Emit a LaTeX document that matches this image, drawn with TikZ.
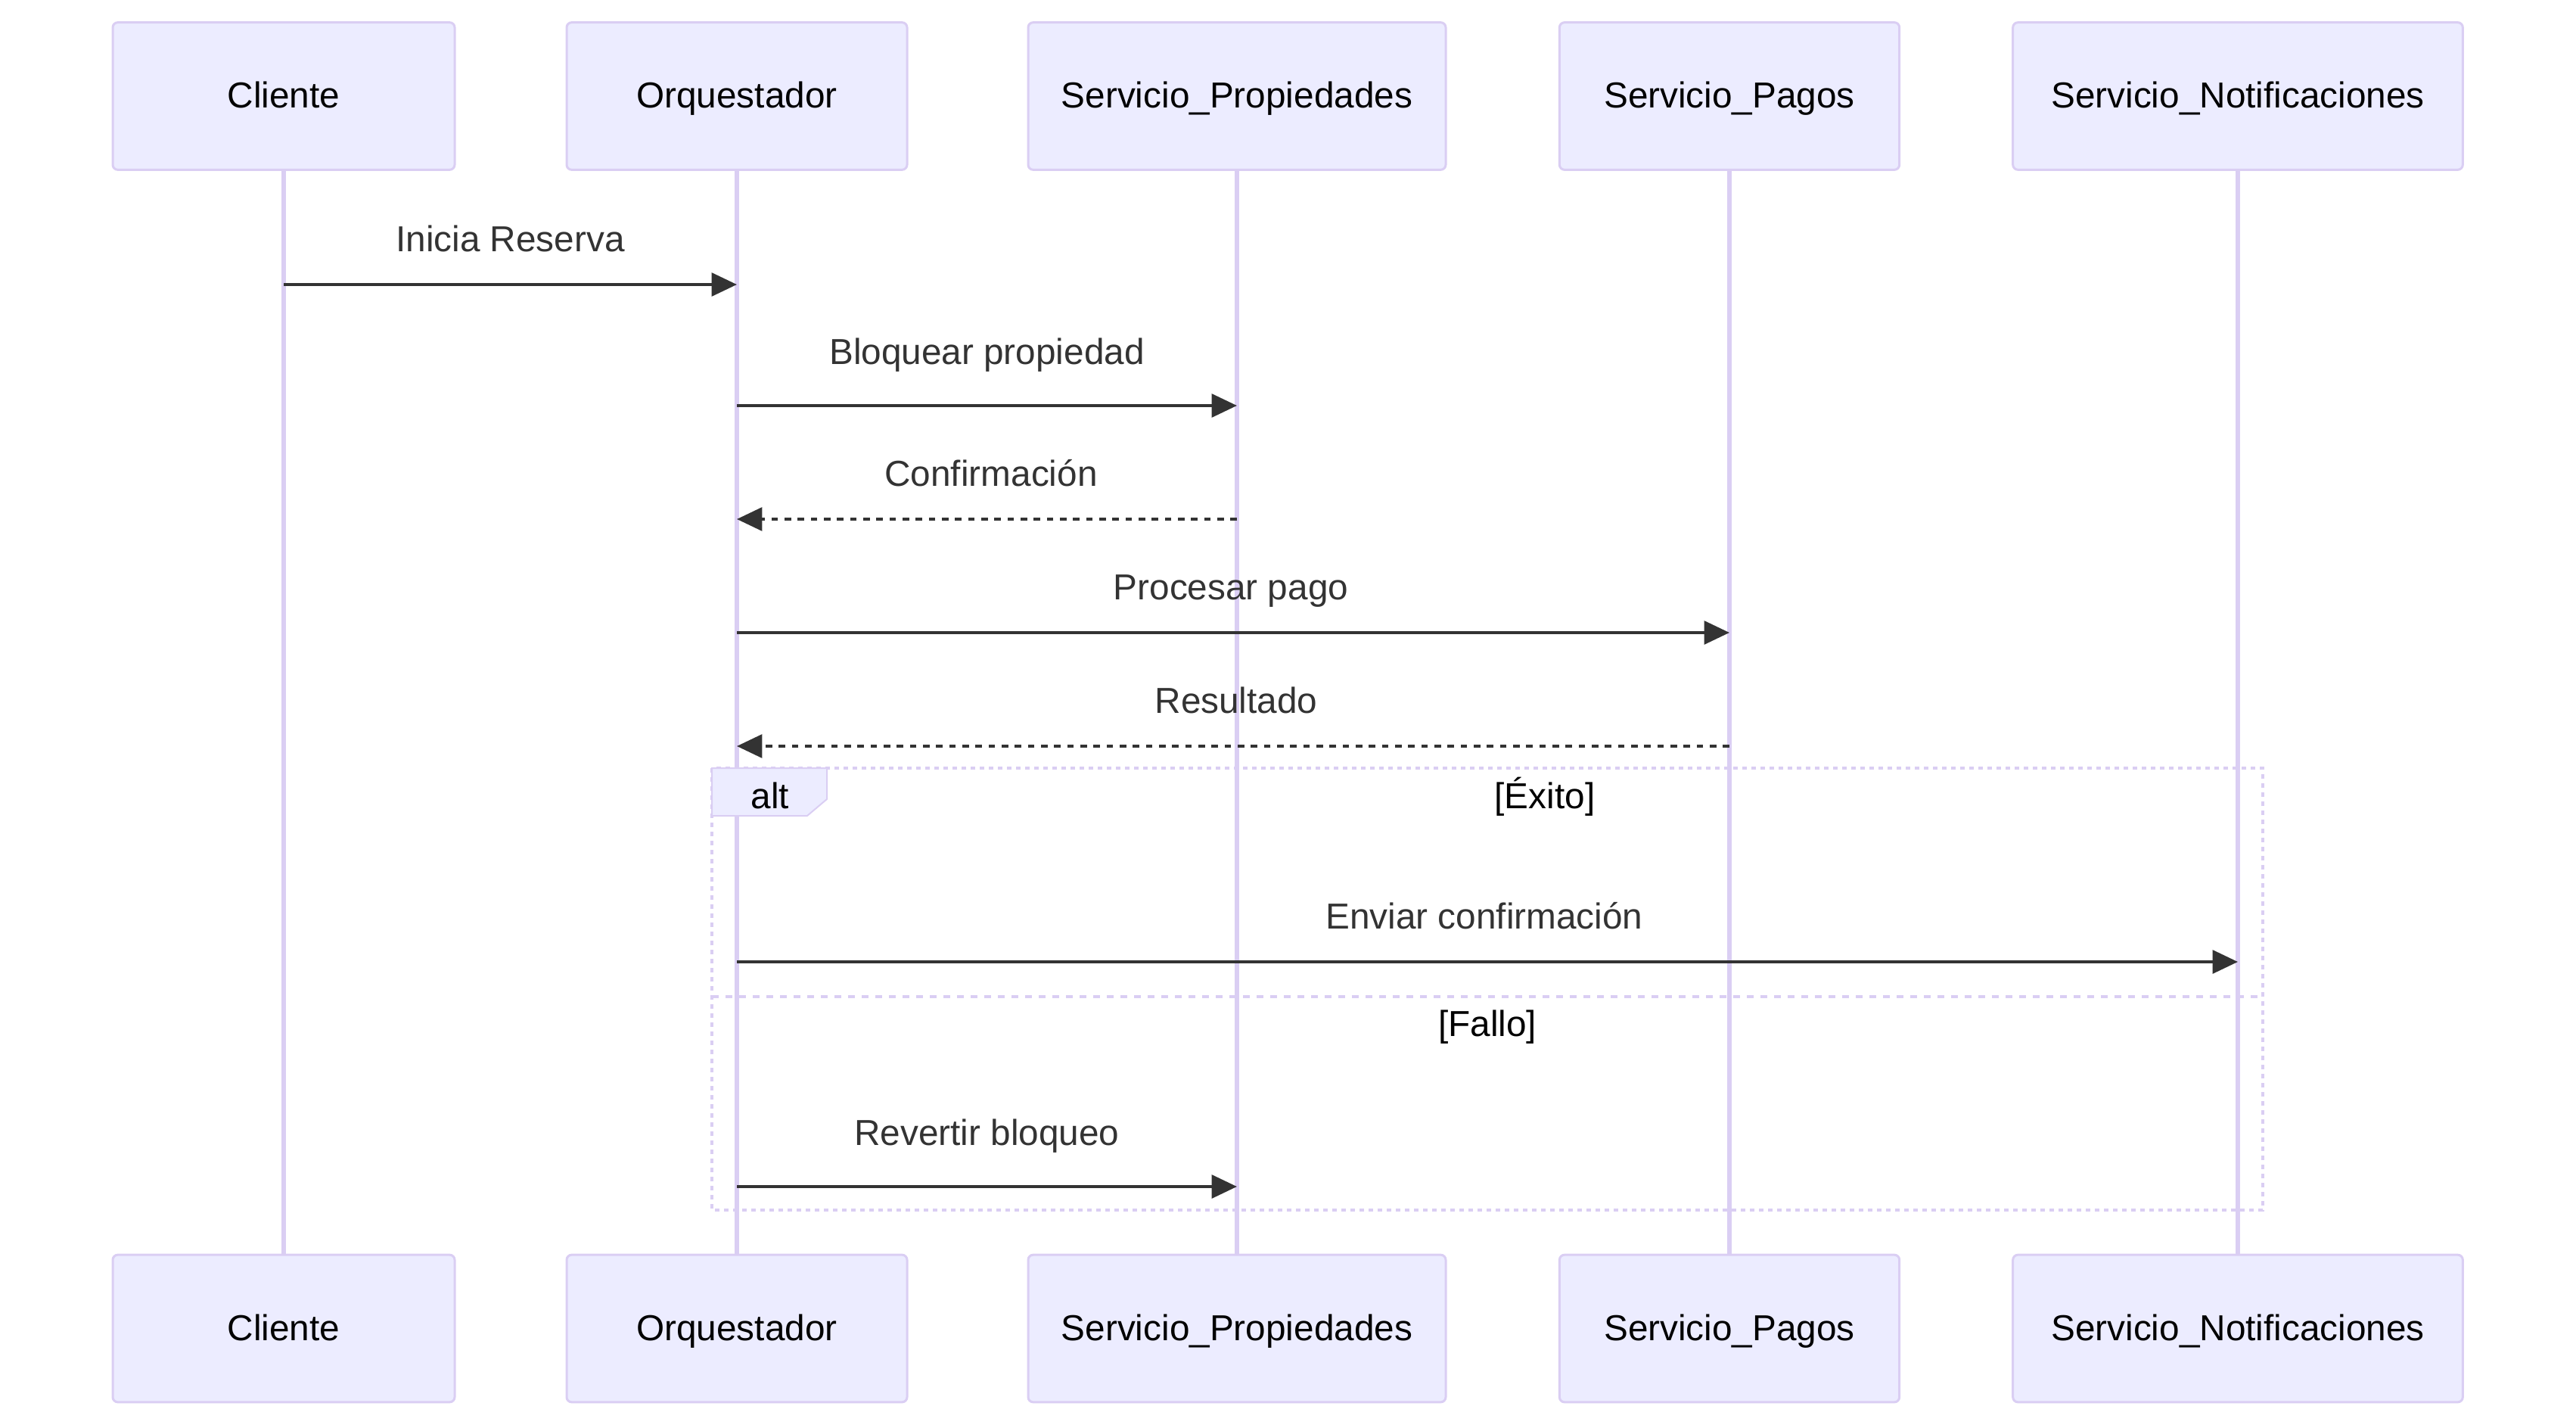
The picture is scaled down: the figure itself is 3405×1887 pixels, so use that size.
\documentclass[tikz,border=0pt]{standalone}
\usepackage{fontspec}
\setmainfont{Liberation Sans}
\usetikzlibrary{arrows.meta}

\definecolor{actorfill}{RGB}{236,236,255}
\definecolor{actorline}{RGB}{218,206,243}
\definecolor{msgcolor}{RGB}{51,51,51}
\newcommand{\diagfont}{\fontsize{35.8}{43}\selectfont}

\tikzset{every picture/.style={line width=0.75pt}}
\tikzset{
  actor/.style={draw=actorline, fill=actorfill, line width=2.25pt, rounded corners=5pt,
    minimum height=146pt, inner sep=0pt, text height=24pt, text depth=0pt, font=\diagfont},
  lifeline/.style={draw=actorline, line width=4pt},
  msg/.style={draw=msgcolor, line width=3pt, -{Triangle[length=25pt,width=23pt]}},
  reply/.style={msg, dash pattern=on 6.5pt off 6.5pt},
  msglabel/.style={anchor=base, text=msgcolor, font=\diagfont, inner sep=0pt},
  altbox/.style={draw=actorline, line width=3.5pt, dash pattern=on 4.5pt off 4.5pt},
  altdiv/.style={draw=actorline, line width=3.5pt, dash pattern=on 6.75pt off 6.75pt},
  alttab/.style={draw=actorline, fill=actorfill, line width=1.5pt},
  altlabel/.style={anchor=base, text=black, font=\diagfont, inner sep=0pt}
}

\begin{document}
\begin{tikzpicture}[x=0.75pt,y=0.75pt,yscale=-1,xscale=1]
	\useasboundingbox (0,0) rectangle (3405,1887);

	% Actors (top row)
	\node[actor, minimum width=339pt] (cliT) at (375,127) {Cliente};
	\node[actor, minimum width=337.5pt] (orqT) at (974,127) {Orquestador};
	\node[actor, minimum width=414pt] (propT) at (1635,127) {Servicio\_Propiedades};
	\node[actor, minimum width=337pt] (pagT) at (2286,127) {Servicio\_Pagos};
	\node[actor, minimum width=446pt] (notT) at (2958,127) {Servicio\_Notificaciones};
	% Actors (bottom row)
	\node[actor, minimum width=339pt] (cliB) at (375,1755.5) {Cliente};
	\node[actor, minimum width=337.5pt] (orqB) at (974,1755.5) {Orquestador};
	\node[actor, minimum width=414pt] (propB) at (1635,1755.5) {Servicio\_Propiedades};
	\node[actor, minimum width=337pt] (pagB) at (2286,1755.5) {Servicio\_Pagos};
	\node[actor, minimum width=446pt] (notB) at (2958,1755.5) {Servicio\_Notificaciones};

	% Lifelines
	\draw[lifeline] (cliT) -- (cliB);
	\draw[lifeline] (orqT) -- (orqB);
	\draw[lifeline] (propT) -- (propB);
	\draw[lifeline] (pagT) -- (pagB);
	\draw[lifeline] (notT) -- (notB);

	% alt frame
	\draw[altbox] (941,1015) rectangle (2991,1599);
	\draw[altdiv] (941,1317) -- (2991,1317);
	\filldraw[alttab] (941,1015) -- (1093,1015) -- (1093,1056) -- (1067,1078) -- (941,1078) -- cycle;
	\node[altlabel] (altTxt) at (1018,1068) {alt};
	\node[altlabel] (exitoTxt) at (2042,1068) {[Éxito]};
	\node[altlabel] (falloTxt) at (1966,1369) {[Fallo]};

	% Messages
	\draw[msg] (cliT |- 0,376) -- (orqT |- 0,376);
	\node[msglabel] (m1) at (674.5,332) {Inicia Reserva};
	\draw[msg] (orqT |- 0,536) -- (propT |- 0,536);
	\node[msglabel] (m2) at (1304.5,481) {Bloquear propiedad};
	\draw[reply] (propT |- 0,686) -- (orqT |- 0,686);
	\node[msglabel] (m3) at (1310,642) {Confirmación};
	\draw[msg] (orqT |- 0,836) -- (pagT |- 0,836);
	\node[msglabel] (m4) at (1627,792) {Procesar pago};
	\draw[reply] (pagT |- 0,986) -- (orqT |- 0,986);
	\node[msglabel] (m5) at (1634,942) {Resultado};
	\draw[msg] (orqT |- 0,1271) -- (notT |- 0,1271);
	\node[msglabel] (m6) at (1962,1227) {Enviar confirmación};
	\draw[msg] (orqT |- 0,1568) -- (propT |- 0,1568);
	\node[msglabel] (m7) at (1304.5,1513) {Revertir bloqueo};

\end{tikzpicture}
\end{document}
